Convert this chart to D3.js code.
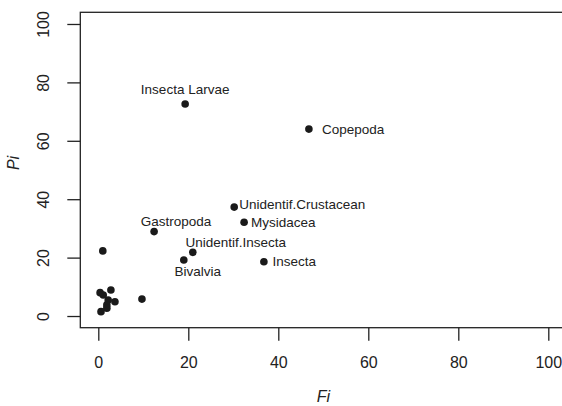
<!DOCTYPE html>
<html>
<head>
<meta charset="utf-8">
<script src="https://cdn.jsdelivr.net/npm/d3@7"></script>
<style>
  body { margin: 0; background: #fff; }
  svg { display: block; font-family: "Liberation Sans", Arial, sans-serif; }
</style>
</head>
<body>
<script>
// prey items: frequency of occurrence (Fi) and prey-specific abundance (Pi)
var names = ["Insecta Larvae", "Copepoda", "Unidentif.Crustacean", "Mysidacea",
             "Gastropoda", "Unidentif.Insecta", "Bivalvia", "Insecta",
             "", "", "", "", "", "", "", "", "", ""];
var fiValues = [19.3, 46.8, 30.2, 32.4, 12.4, 21.0, 19.0, 36.8,
                9.7, 1.0, 0.4, 1.1, 2.8, 2.2, 1.9, 1.9, 3.7, 0.6];
var piValues = [72.6, 64.0, 37.3, 32.1, 28.9, 21.8, 19.2, 18.6,
                5.8, 22.3, 8.0, 7.2, 8.9, 5.5, 3.8, 2.7, 4.9, 1.5];
var xTicks = [0, 20, 40, 60, 80, 100];
var yTicks = [0, 20, 40, 60, 80, 100];

// where each label sits relative to its point (pixel offsets)
var labelPlace = {
  "Insecta Larvae":       { dx: 0,   dy: -10, anchor: "middle" },
  "Copepoda":             { dx: 13,  dy: 4.5, anchor: "start" },
  "Unidentif.Crustacean": { dx: 5,   dy: 2,   anchor: "start" },
  "Mysidacea":            { dx: 7,   dy: 4.5, anchor: "start" },
  "Gastropoda":           { dx: 22,  dy: -6,  anchor: "middle" },
  "Unidentif.Insecta":    { dx: 43,  dy: -5,  anchor: "middle" },
  "Bivalvia":             { dx: 14,  dy: 16.5, anchor: "middle" },
  "Insecta":              { dx: 8.5, dy: 4.5, anchor: "start" }
};

var width = 562;
var height = 406;

var svg = d3.select("body")
            .append("svg")
            .attr("width", width)
            .attr("height", height);

// R style axes: 4% padding around 0..100
var xScale = d3.scaleLinear()
               .domain([-4, 104])
               .range([80.3, 566.3]);

var yScale = d3.scaleLinear()
               .domain([-4, 104])
               .range([327.7, 12.3]);

// plot box
svg.append("rect")
   .attr("x", xScale(-4))
   .attr("y", yScale(104))
   .attr("width", xScale(104) - xScale(-4))
   .attr("height", yScale(-4) - yScale(104))
   .attr("fill", "none")
   .attr("stroke", "#222")
   .attr("stroke-width", 1.3);

// x axis
var xAxis = d3.axisBottom(xScale)
              .tickValues(xTicks)
              .tickSize(13)
              .tickPadding(16)
              .tickSizeOuter(0);

var gx = svg.append("g")
            .attr("transform", "translate(0," + yScale(-4) + ")")
            .call(xAxis);
gx.select(".domain").remove();
gx.selectAll("line").attr("stroke", "#222").attr("stroke-width", 1.3);
gx.selectAll("text")
  .attr("fill", "#222")
  .style("font-size", "16px")
  .style("font-family", "Liberation Sans, Arial, sans-serif");

// y axis, labels rotated like R's default las=0
var yAxis = d3.axisLeft(yScale)
              .tickValues(yTicks)
              .tickSize(13)
              .tickSizeOuter(0);

var gy = svg.append("g")
            .attr("transform", "translate(" + xScale(-4) + ",0)")
            .call(yAxis);
gy.select(".domain").remove();
gy.selectAll("line").attr("stroke", "#222").attr("stroke-width", 1.3);
gy.selectAll("text")
  .attr("fill", "#222")
  .attr("x", null)
  .attr("text-anchor", "middle")
  .attr("transform", "translate(-37,0) rotate(-90)")
  .attr("dy", "0.35em")
  .style("font-size", "16px")
  .style("font-family", "Liberation Sans, Arial, sans-serif");

// axis titles
svg.append("text")
   .attr("x", (xScale(-4) + xScale(104)) / 2)
   .attr("y", 402)
   .attr("text-anchor", "middle")
   .style("font-size", "16px")
   .style("font-style", "italic")
   .attr("fill", "#222")
   .text("Fi");

svg.append("text")
   .attr("transform", "translate(19,163) rotate(-90)")
   .attr("text-anchor", "middle")
   .style("font-size", "16px")
   .style("font-style", "italic")
   .attr("fill", "#222")
   .text("Pi");

// points
var points = d3.range(fiValues.length);

svg.selectAll("circle.pt")
   .data(points)
   .enter()
   .append("circle")
   .attr("class", "pt")
   .attr("cx", function(i) { return xScale(fiValues[i]); })
   .attr("cy", function(i) { return yScale(piValues[i]); })
   .attr("r", 3.8)
   .attr("fill", "#1a1a1a");

// labels
svg.selectAll("text.lab")
   .data(points.filter(function(i) { return names[i] !== ""; }))
   .enter()
   .append("text")
   .attr("class", "lab")
   .attr("x", function(i) { return xScale(fiValues[i]) + labelPlace[names[i]].dx; })
   .attr("y", function(i) { return yScale(piValues[i]) + labelPlace[names[i]].dy; })
   .attr("text-anchor", function(i) { return labelPlace[names[i]].anchor; })
   .style("font-size", "13.5px")
   .attr("fill", "#222")
   .text(function(i) { return names[i]; });
</script>
</body>
</html>
